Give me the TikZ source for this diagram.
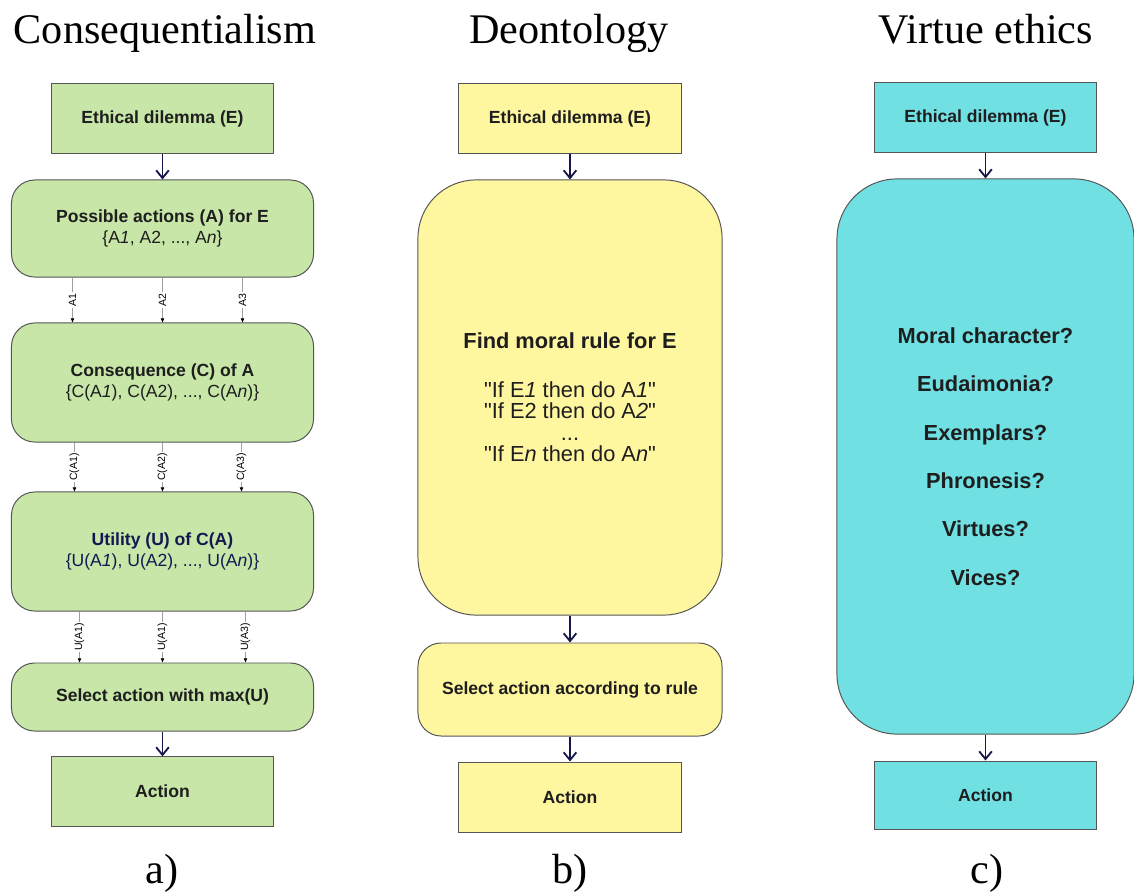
\documentclass[tikz,border=0pt]{standalone}
\usepackage{fontspec}
\setmainfont{Liberation Sans}[Ligatures=TeXOff]
\newfontfamily\headfont{Liberation Serif}
\usetikzlibrary{arrows.meta, calc, positioning}
\definecolor{conseqgreen}{RGB}{199,230,168}
\definecolor{deonyellow}{RGB}{255,246,160}
\definecolor{virtuecyan}{RGB}{112,224,227}
\definecolor{arrownavy}{RGB}{22,22,72}
\definecolor{utilnavy}{RGB}{20,24,82}
\definecolor{boxborder}{RGB}{85,85,85}
\definecolor{textdark}{RGB}{30,30,30}

\tikzset{
  box/.style={draw=boxborder, line width=0.7pt, text=textdark, align=center,
    font=\fontsize{12.5pt}{14.5pt}\selectfont, inner sep=2pt},
  flatbox/.style={box, minimum width=5.55cm, minimum height=1.73cm},
  roundbox/.style={box, rounded corners=0.58cm, minimum width=7.55cm},
  bigbox/.style={box, rounded corners=1.45cm, minimum width=7.55cm,
    font=\fontsize{15.5pt}{15.3pt}\selectfont},
  heading/.style={anchor=base, text=black, font=\headfont\fontsize{30pt}{30pt}\selectfont},
  flow/.style={draw=arrownavy, line width=1.3pt, -{Straight Barb[length=5.5pt,width=9pt]}},
  pick/.style={draw=gray!75, line width=0.5pt, -{Triangle[length=3pt,width=2.4pt,color=black]}},
  picklabel/.style={midway, rotate=90, fill=white, inner sep=1pt,
    font=\fontsize{7.5pt}{7.5pt}\selectfont}
}

\begin{document}
\begin{tikzpicture}[x=0.025cm, y=-0.025cm]
  \useasboundingbox (0,0) rectangle (1134,894);

  % Headings
  \node[heading] (hC) at (165,43) {Consequentialism};
  \node[heading] (hD) at (569,43) {Deontology};
  \node[heading] (hV) at (986,43) {Virtue ethics};

  % a) Consequentialism
  \node[flatbox, fill=conseqgreen] (gE) at (162.5,118.5) {\bfseries Ethical dilemma (E)};
  \node[roundbox, fill=conseqgreen, minimum height=2.425cm] (gA) at (162.5,228.5)
    {{\bfseries Possible actions (A) for E}\\ \{A\textit{1}, A2, ..., A\textit{n}\}};
  \node[roundbox, fill=conseqgreen, minimum height=2.975cm] (gC) at (162.5,382.5)
    {{\bfseries Consequence (C) of A}\\ \{C(A\textit{1}), C(A2), ..., C(A\textit{n})\}};
  \node[roundbox, fill=conseqgreen, minimum height=2.975cm, text=utilnavy] (gU) at (162.5,551.5)
    {{\bfseries Utility (U) of C(A)}\\ \{U(A\textit{1}), U(A2), ..., U(A\textit{n})\}};
  \node[roundbox, fill=conseqgreen, minimum height=1.7cm] (gS) at (162.5,697)
    {\bfseries Select action with max(U)};
  \node[flatbox, fill=conseqgreen] (gAct) at (162.5,791.5) {\bfseries Action};

  \draw[flow] (gE) -- (gA);
  \draw[flow] (gS) -- (gAct);
  \draw[pick] ($(gA.south)+(-90,0)$) -- node[picklabel] {A1} ($(gC.north)+(-90,0)$);
  \draw[pick] (gA.south) -- node[picklabel] {A2} (gC.north);
  \draw[pick] ($(gA.south)+(80,0)$) -- node[picklabel] {A3} ($(gC.north)+(80,0)$);
  \draw[pick] ($(gC.south)+(-88,0)$) -- node[picklabel] {C(A1)} ($(gU.north)+(-88,0)$);
  \draw[pick] (gC.south) -- node[picklabel] {C(A2)} (gU.north);
  \draw[pick] ($(gC.south)+(79,0)$) -- node[picklabel] {C(A3)} ($(gU.north)+(79,0)$);
  \draw[pick] ($(gU.south)+(-83,0)$) -- node[picklabel] {U(A1)} ($(gS.north)+(-83,0)$);
  \draw[pick] (gU.south) -- node[picklabel] {U(A1)} (gS.north);
  \draw[pick] ($(gU.south)+(83,0)$) -- node[picklabel] {U(A3)} ($(gS.north)+(83,0)$);

  % b) Deontology
  \node[flatbox, fill=deonyellow] (yE) at (570,118.5) {\bfseries Ethical dilemma (E)};
  \node[bigbox, fill=deonyellow, minimum width=7.6cm, minimum height=10.875cm] (yF) at (570,397.5)
    {{\bfseries Find moral rule for E}\\[19pt]
     "If E\textit{1} then do A\textit{1}"\\
     "If E2 then do A\textit{2}"\\
     ...\\
     "If E\textit{n} then do A\textit{n}"};
  \node[roundbox, fill=deonyellow, minimum width=7.6cm, minimum height=2.325cm] (yS) at (570,689.5)
    {\bfseries Select action according to rule};
  \node[flatbox, fill=deonyellow, minimum height=1.75cm] (yAct) at (570,797) {\bfseries Action};

  \draw[flow] (yE) -- (yF);
  \draw[flow] (yF) -- (yS);
  \draw[flow] (yS) -- (yAct);

  % c) Virtue ethics
  \node[flatbox, fill=virtuecyan] (cE) at (985.5,117.5) {\bfseries Ethical dilemma (E)};
  \node[bigbox, fill=virtuecyan, rounded corners=1.5cm, minimum width=7.425cm, minimum height=13.875cm,
    font=\fontsize{15.5pt}{34.4pt}\selectfont\bfseries] (cV) at (985.5,456.5)
    {Moral character?\\ Eudaimonia?\\ Exemplars?\\ Phronesis?\\ Virtues?\\ Vices?};
  \node[flatbox, fill=virtuecyan, minimum height=1.7cm] (cAct) at (985.5,795) {\bfseries Action};

  \draw[flow] (cE) -- (cV);
  \draw[flow] (cV) -- (cAct);

  % Panel labels
  \node[heading] (la) at (162,883) {a)};
  \node[heading] (lb) at (570,883) {b)};
  \node[heading] (lc) at (987,883) {c)};
\end{tikzpicture}
\end{document}
